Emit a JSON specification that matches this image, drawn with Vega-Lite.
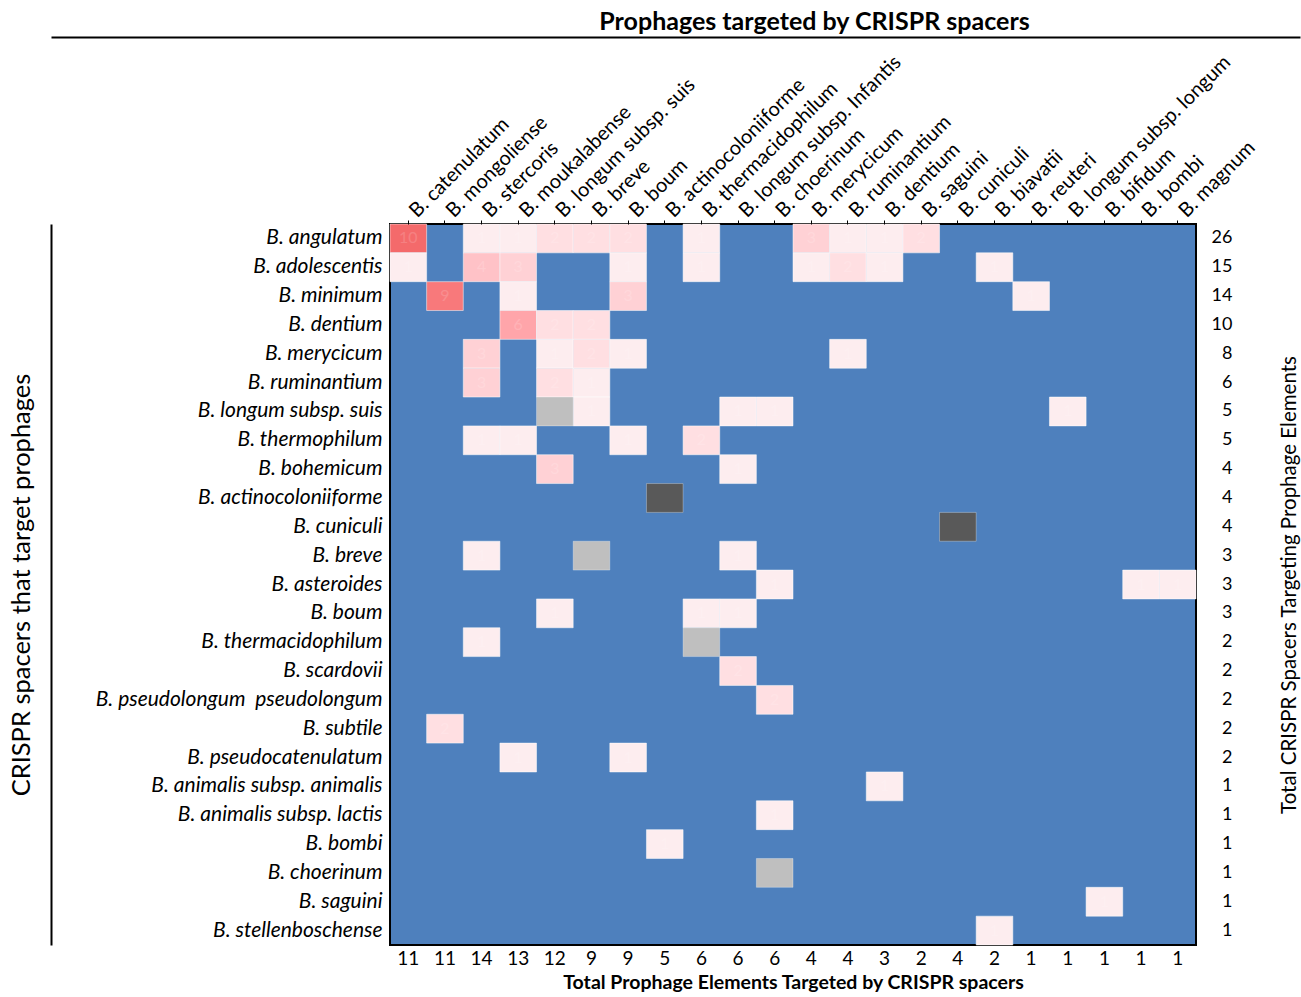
{
  "$schema": "https://vega.github.io/schema/vega-lite/v6.json",
  "padding": {"left": 9, "top": 9, "right": 0, "bottom": 0},
  "width": 806,
  "height": 721,
  "view": {"fill": "#4e80bd", "stroke": "#000000", "strokeWidth": 2},
  "config": {
    "font": "Lato",
    "axis": {"labelColor": "#000000", "titleColor": "#000000", "labelFont": "Lato", "titleFont": "Lato", "grid": false}
  },
  "data": {
    "values": [
      {"r": "B. angulatum|26", "c": "B. catenulatum|11", "n": 10, "s": 0},
      {"r": "B. angulatum|26", "c": "B. stercoris|14", "n": 1, "s": 0},
      {"r": "B. angulatum|26", "c": "B. moukalabense|13", "n": 1, "s": 0},
      {"r": "B. angulatum|26", "c": "B. longum subsp. suis|12", "n": 2, "s": 0},
      {"r": "B. angulatum|26", "c": "B. breve|9", "n": 2, "s": 0},
      {"r": "B. angulatum|26", "c": "B. boum|9", "n": 2, "s": 0},
      {"r": "B. angulatum|26", "c": "B. thermacidophilum|6", "n": 1, "s": 0},
      {"r": "B. angulatum|26", "c": "B. merycicum|4", "n": 3, "s": 0},
      {"r": "B. angulatum|26", "c": "B. ruminantium|4", "n": 1, "s": 0},
      {"r": "B. angulatum|26", "c": "B. dentium|3", "n": 1, "s": 0},
      {"r": "B. angulatum|26", "c": "B. saguini|2", "n": 2, "s": 0},
      {"r": "B. adolescentis|15", "c": "B. catenulatum|11", "n": 1, "s": 0},
      {"r": "B. adolescentis|15", "c": "B. stercoris|14", "n": 4, "s": 0},
      {"r": "B. adolescentis|15", "c": "B. moukalabense|13", "n": 3, "s": 0},
      {"r": "B. adolescentis|15", "c": "B. boum|9", "n": 1, "s": 0},
      {"r": "B. adolescentis|15", "c": "B. thermacidophilum|6", "n": 1, "s": 0},
      {"r": "B. adolescentis|15", "c": "B. merycicum|4", "n": 1, "s": 0},
      {"r": "B. adolescentis|15", "c": "B. ruminantium|4", "n": 2, "s": 0},
      {"r": "B. adolescentis|15", "c": "B. dentium|3", "n": 1, "s": 0},
      {"r": "B. adolescentis|15", "c": "B. biavatii|2", "n": 1, "s": 0},
      {"r": "B. minimum|14", "c": "B. mongoliense|11", "n": 9, "s": 0},
      {"r": "B. minimum|14", "c": "B. moukalabense|13", "n": 1, "s": 0},
      {"r": "B. minimum|14", "c": "B. boum|9", "n": 3, "s": 0},
      {"r": "B. minimum|14", "c": "B. reuteri|1", "n": 1, "s": 0},
      {"r": "B. dentium|10", "c": "B. moukalabense|13", "n": 6, "s": 0},
      {"r": "B. dentium|10", "c": "B. longum subsp. suis|12", "n": 2, "s": 0},
      {"r": "B. dentium|10", "c": "B. breve|9", "n": 2, "s": 0},
      {"r": "B. merycicum|8", "c": "B. stercoris|14", "n": 3, "s": 0},
      {"r": "B. merycicum|8", "c": "B. longum subsp. suis|12", "n": 1, "s": 0},
      {"r": "B. merycicum|8", "c": "B. breve|9", "n": 2, "s": 0},
      {"r": "B. merycicum|8", "c": "B. boum|9", "n": 1, "s": 0},
      {"r": "B. merycicum|8", "c": "B. ruminantium|4", "n": 1, "s": 0},
      {"r": "B. ruminantium|6", "c": "B. stercoris|14", "n": 3, "s": 0},
      {"r": "B. ruminantium|6", "c": "B. longum subsp. suis|12", "n": 2, "s": 0},
      {"r": "B. ruminantium|6", "c": "B. breve|9", "n": 1, "s": 0},
      {"r": "B. longum subsp. suis|5", "c": "B. longum subsp. suis|12", "n": 1, "s": 1},
      {"r": "B. longum subsp. suis|5", "c": "B. breve|9", "n": 1, "s": 0},
      {"r": "B. longum subsp. suis|5", "c": "B. longum subsp. Infantis|6", "n": 1, "s": 0},
      {"r": "B. longum subsp. suis|5", "c": "B. choerinum|6", "n": 1, "s": 0},
      {"r": "B. longum subsp. suis|5", "c": "B. longum subsp. longum|1", "n": 1, "s": 0},
      {"r": "B. thermophilum|5", "c": "B. stercoris|14", "n": 1, "s": 0},
      {"r": "B. thermophilum|5", "c": "B. moukalabense|13", "n": 1, "s": 0},
      {"r": "B. thermophilum|5", "c": "B. boum|9", "n": 1, "s": 0},
      {"r": "B. thermophilum|5", "c": "B. thermacidophilum|6", "n": 2, "s": 0},
      {"r": "B. bohemicum|4", "c": "B. longum subsp. suis|12", "n": 3, "s": 0},
      {"r": "B. bohemicum|4", "c": "B. longum subsp. Infantis|6", "n": 1, "s": 0},
      {"r": "B. actinocoloniiforme|4", "c": "B. actinocoloniiforme|5", "n": 4, "s": 1},
      {"r": "B. cuniculi|4", "c": "B. cuniculi|4", "n": 4, "s": 1},
      {"r": "B. breve|3", "c": "B. stercoris|14", "n": 1, "s": 0},
      {"r": "B. breve|3", "c": "B. breve|9", "n": 1, "s": 1},
      {"r": "B. breve|3", "c": "B. longum subsp. Infantis|6", "n": 1, "s": 0},
      {"r": "B. asteroides|3", "c": "B. choerinum|6", "n": 1, "s": 0},
      {"r": "B. asteroides|3", "c": "B. bombi|1", "n": 1, "s": 0},
      {"r": "B. asteroides|3", "c": "B. magnum|1", "n": 1, "s": 0},
      {"r": "B. boum|3", "c": "B. longum subsp. suis|12", "n": 1, "s": 0},
      {"r": "B. boum|3", "c": "B. thermacidophilum|6", "n": 1, "s": 0},
      {"r": "B. boum|3", "c": "B. longum subsp. Infantis|6", "n": 1, "s": 0},
      {"r": "B. thermacidophilum\u00a0|2", "c": "B. stercoris|14", "n": 1, "s": 0},
      {"r": "B. thermacidophilum\u00a0|2", "c": "B. thermacidophilum|6", "n": 1, "s": 1},
      {"r": "B. scardovii|2", "c": "B. longum subsp. Infantis|6", "n": 2, "s": 0},
      {"r": "B. pseudolongum \u00a0pseudolongum|2", "c": "B. choerinum|6", "n": 2, "s": 0},
      {"r": "B. subtile|2", "c": "B. mongoliense|11", "n": 2, "s": 0},
      {"r": "B. pseudocatenulatum|2", "c": "B. moukalabense|13", "n": 1, "s": 0},
      {"r": "B. pseudocatenulatum|2", "c": "B. boum|9", "n": 1, "s": 0},
      {"r": "B. animalis subsp. animalis|1", "c": "B. dentium|3", "n": 1, "s": 0},
      {"r": "B. animalis subsp. lactis|1", "c": "B. choerinum|6", "n": 1, "s": 0},
      {"r": "B. bombi|1", "c": "B. actinocoloniiforme|5", "n": 1, "s": 0},
      {"r": "B. choerinum|1", "c": "B. choerinum|6", "n": 1, "s": 1},
      {"r": "B. saguini|1", "c": "B. bifidum|1", "n": 1, "s": 0},
      {"r": "B. stellenboschense|1", "c": "B. biavatii|2", "n": 1, "s": 0}
    ]
  },
  "layer": [
    {
      "layer": [
        {
          "transform": [{"filter": "datum.s == 0"}],
          "mark": {"type": "rect", "stroke": "#ffffff", "strokeOpacity": 0.5, "strokeWidth": 1},
          "encoding": {
            "x": {
              "field": "c", "type": "nominal",
              "scale": {"domain": ["B. catenulatum|11", "B. mongoliense|11", "B. stercoris|14", "B. moukalabense|13", "B. longum subsp. suis|12", "B. breve|9", "B. boum|9", "B. actinocoloniiforme|5", "B. thermacidophilum|6", "B. longum subsp. Infantis|6", "B. choerinum|6", "B. merycicum|4", "B. ruminantium|4", "B. dentium|3", "B. saguini|2", "B. cuniculi|4", "B. biavatii|2", "B. reuteri|1", "B. longum subsp. longum|1", "B. bifidum|1", "B. bombi|1", "B. magnum|1"], "paddingInner": 0, "paddingOuter": 0},
              "axis": {"orient": "top", "labelExpr": "split(datum.value, '|')[0]", "labelAngle": -45, "labelAlign": "left", "labelBaseline": "alphabetic", "labelFontSize": 20, "labelPadding": 2, "labelOffset": 9, "ticks": true, "tickSize": 4, "tickColor": "#000000", "domain": false, "title": null, "labelLimit": 0, "labelOverlap": false}
            },
            "y": {
              "field": "r", "type": "nominal",
              "scale": {"domain": ["B. angulatum|26", "B. adolescentis|15", "B. minimum|14", "B. dentium|10", "B. merycicum|8", "B. ruminantium|6", "B. longum subsp. suis|5", "B. thermophilum|5", "B. bohemicum|4", "B. actinocoloniiforme|4", "B. cuniculi|4", "B. breve|3", "B. asteroides|3", "B. boum|3", "B. thermacidophilum\u00a0|2", "B. scardovii|2", "B. pseudolongum \u00a0pseudolongum|2", "B. subtile|2", "B. pseudocatenulatum|2", "B. animalis subsp. animalis|1", "B. animalis subsp. lactis|1", "B. bombi|1", "B. choerinum|1", "B. saguini|1", "B. stellenboschense|1"], "paddingInner": 0, "paddingOuter": 0},
              "axis": {"orient": "left", "labelExpr": "split(datum.value, '|')[0]", "labelFontStyle": "italic", "labelFontSize": 21, "labelPadding": 8, "ticks": false, "domain": false, "title": null, "labelLimit": 0, "labelOverlap": false}
            },
            "color": {"field": "n", "type": "quantitative", "scale": {"domain": [1, 10], "range": ["#fdedef", "#f46a6b"]}, "legend": null}
          }
        },
        {
          "transform": [{"filter": "datum.s == 1"}],
          "mark": {"type": "rect", "stroke": "#ffffff", "strokeOpacity": 0.3, "strokeWidth": 1},
          "encoding": {
            "x": {
              "field": "c", "type": "nominal",
              "axis": {"orient": "bottom", "labelExpr": "split(datum.value, '|')[1]", "labelAngle": 0, "labelFontSize": 19, "labelPadding": 4, "ticks": false, "domain": false, "title": "Total Prophage Elements Targeted by CRISPR spacers", "titleFontSize": 19.5, "titleFontWeight": "bold", "titlePadding": 5, "labelOverlap": false}
            },
            "y": {
              "field": "r", "type": "nominal",
              "axis": {"orient": "right", "labelExpr": "split(datum.value, '|')[1]", "labelAlign": "right", "labelPadding": 36, "labelFontSize": 18, "ticks": false, "domain": false, "title": "Total CRISPR Spacers Targeting Prophage Elements", "titleFontSize": 20.5, "titleFontWeight": "normal", "titleAngle": 270, "titleBaseline": "top", "titlePadding": 47, "labelOverlap": false}
            },
            "color": {"condition": {"test": "datum.n >= 4", "value": "#595959"}, "value": "#bfbfbf"}
          }
        },
        {
          "transform": [{"filter": "datum.s == 0"}],
          "mark": {"type": "text", "fontSize": 16, "color": "#ffffff", "opacity": 0.15},
          "encoding": {
            "x": {"field": "c", "type": "nominal", "axis": null},
            "y": {
              "field": "r", "type": "nominal",
              "axis": {"orient": "left", "offset": 339, "labels": false, "ticks": false, "domain": true, "domainColor": "#000000", "domainWidth": 2, "title": "CRISPR spacers that target prophages", "titleFontSize": 25.5, "titleFontWeight": "normal", "titlePadding": 17}
            },
            "text": {"field": "n", "type": "quantitative"}
          }
        }
      ],
      "resolve": {"axis": {"x": "independent", "y": "independent"}}
    },
    {
      "data": {"values": [{"v": 0}, {"v": 1}]},
      "mark": {"type": "point", "opacity": 0, "size": 1},
      "encoding": {
        "x": {
          "field": "v", "type": "quantitative",
          "scale": {"domain": [0, 1], "range": [-339, 910], "nice": false, "zero": false},
          "axis": {"orient": "top", "offset": 187, "labels": false, "ticks": false, "grid": false, "domain": true, "domainColor": "#000000", "domainWidth": 2, "title": "Prophages targeted by CRISPR spacers", "titleFontSize": 25, "titleFontWeight": "bold", "titlePadding": 3, "titleX": 424}
        }
      }
    }
  ],
  "resolve": {"scale": {"x": "independent"}, "axis": {"x": "independent"}}
}
